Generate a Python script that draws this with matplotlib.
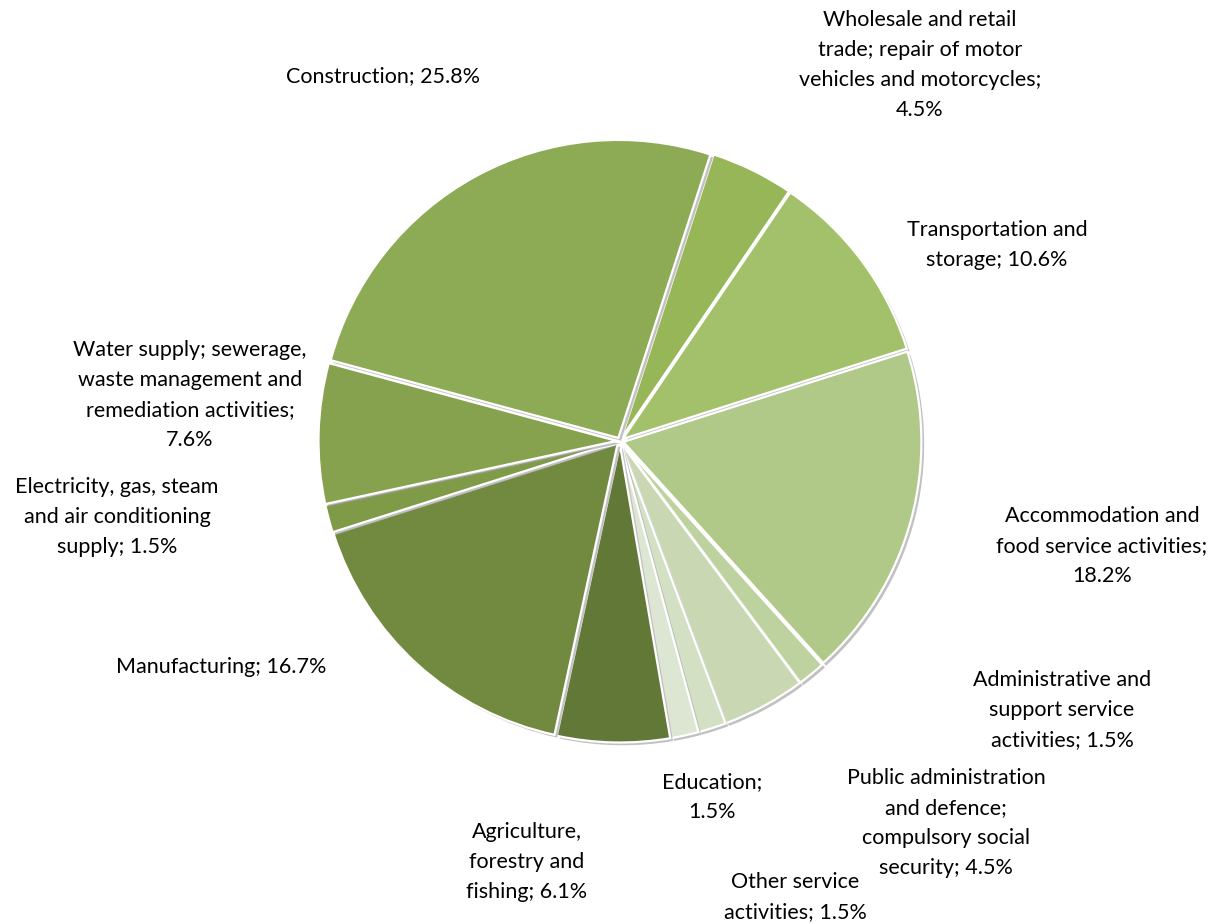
import matplotlib
matplotlib.use("Agg")
import matplotlib.pyplot as plt
import matplotlib.patheffects as pe

labels = [
    "Wholesale and retail\ntrade; repair of motor\nvehicles and motorcycles;\n4.5%",
    "Transportation and\nstorage; 10.6%",
    "Accommodation and\nfood service activities;\n18.2%",
    "Administrative and\nsupport service\nactivities; 1.5%",
    "Public administration\nand defence;\ncompulsory social\nsecurity; 4.5%",
    "Education;\n1.5%",
    "Other service\nactivities; 1.5%",
    "Agriculture,\nforestry and\nfishing; 6.1%",
    "Manufacturing; 16.7%",
    "Electricity, gas, steam\nand air conditioning\nsupply; 1.5%",
    "Water supply; sewerage,\nwaste management and\nremediation activities;\n7.6%",
    "Construction; 25.8%",
]
values = [4.5, 10.6, 18.2, 1.5, 4.5, 1.5, 1.5, 6.1, 16.7, 1.5, 7.6, 25.8]
colors = ["#97B657", "#A3C06B", "#B0C888", "#BED2A0", "#C9D8B2", "#D3E0C3",
          "#DDE6D2", "#617836", "#718A40", "#7F9B48", "#87A24E", "#8DAA55"]

# label anchor positions in pixel coords (x, y from top)
label_pos = [(920, 65), (997, 245), (1102, 546), (1062, 710), (946, 823),
             (712, 797), (795, 897), (527, 862), (221, 667), (117, 517),
             (190, 395), (383, 76)]

W, H = 1219, 923
fig = plt.figure(figsize=(W / 100, H / 100), dpi=100)
ax = fig.add_axes([0, 0, 1, 1])

wedges, _ = ax.pie(values, colors=colors, startangle=72, counterclock=False,
                   center=(620, H - 441), radius=298,
                   explode=[3.5] * len(values),
                   wedgeprops=dict(edgecolor="white", linewidth=1.6))
for w in wedges:
    w.set_path_effects([pe.SimplePatchShadow(offset=(2, -2), shadow_rgbFace="#999999", alpha=0.6),
                        pe.Normal()])

ax.set_xlim(0, W)
ax.set_ylim(0, H)
ax.set_aspect("equal")
ax.axis("off")

for lab, (x, y) in zip(labels, label_pos):
    ax.text(x, H - y, lab, ha="center", va="center", fontsize=15.5,
            family=["Lato", "DejaVu Sans"], color="#000000", linespacing=1.62)

fig.savefig("out.png", dpi=100)
